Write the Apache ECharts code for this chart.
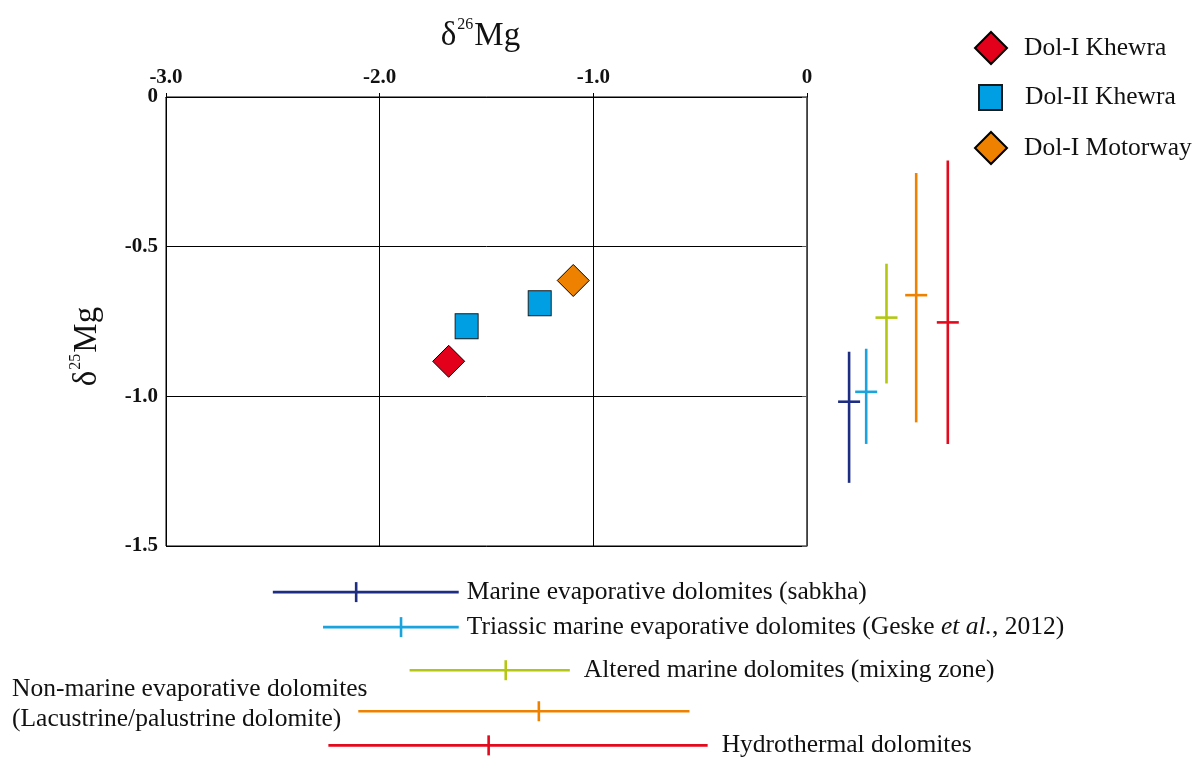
<!DOCTYPE html>
<html>
<head>
<meta charset="utf-8">
<script src="https://cdn.jsdelivr.net/npm/echarts@6/dist/echarts.min.js"></script>
<style>html,body{margin:0;padding:0;background:#fff}#c{width:1195px;height:758px}</style>
</head>
<body>
<div id="c"></div>
<script>
// ---- data ----
const xTicks = [-3, -2, -1, 0];
const xTickLabels = ['-3.0', '-2.0', '-1.0', '0'];
const yTicks = [0, -0.5, -1, -1.5];
const yTickLabels = ['0', '-0.5', '-1.0', '-1.5'];

const seriesNames = ['Dol-I Khewra', 'Dol-II Khewra', 'Dol-I Motorway'];
const dolIKhewra = [[-1.677, -0.883]];
const dolIIKhewra = [[-1.593, -0.766], [-1.251, -0.689]];
const dolIMotorway = [[-1.094, -0.613]];

// reference ranges: delta26Mg (horizontal bars) and delta25Mg (vertical bars)
const refGroups = ['Marine evaporative dolomites (sabkha)',
  'Triassic marine evaporative dolomites (Geske {i|et al.}, 2012)',
  'Altered marine dolomites (mixing zone)',
  'Non-marine evaporative dolomites\n(Lacustrine/palustrine dolomite)',
  'Hydrothermal dolomites'];
const d26Mean = [-2.11, -1.90, -1.41, -1.255, -1.49];
const d26Min  = [-2.50, -2.265, -1.86, -2.10, -2.24];
const d26Max  = [-1.63, -1.63, -1.11, -0.55, -0.465];
const d26Row  = [-1.654, -1.771, -1.915, -2.052, -2.166];
const d25Mean = [-1.018, -0.985, -0.737, -0.662, -0.753];
const d25Min  = [-1.289, -1.159, -0.957, -1.087, -1.159];
const d25Max  = [-0.851, -0.841, -0.557, -0.254, -0.212];
const d25Col  = [0.197, 0.277, 0.372, 0.511, 0.659];
const refColors = ['#1d2d83', '#1aa3dc', '#b3c712', '#ee8200', '#e30a1e'];

const SERIF = "'Liberation Serif', 'Times New Roman', serif";
const FS = 25.5;

const chart = echarts.init(document.getElementById('c'), null, {renderer: 'canvas'});

const vData = d25Col.map((x, i) => [x, d25Mean[i], d25Min[i], d25Max[i], i]);
const hData = d26Row.map((y, i) => [d26Mean[i], y, d26Min[i], d26Max[i], i]);

function renderV(params, api) {
  const i = api.value(4);
  const c = api.coord([api.value(0), api.value(1)]);
  const lo = api.coord([api.value(0), api.value(2)]);
  const hi = api.coord([api.value(0), api.value(3)]);
  const st = {stroke: refColors[i], lineWidth: 2.6};
  return {type: 'group', children: [
    {type: 'line', shape: {x1: c[0], y1: hi[1], x2: c[0], y2: lo[1]}, style: st},
    {type: 'line', shape: {x1: c[0] - 11, y1: c[1], x2: c[0] + 11, y2: c[1]}, style: st}
  ]};
}

function renderH(params, api) {
  const i = api.value(4);
  const c = api.coord([api.value(0), api.value(1)]);
  const lo = api.coord([api.value(2), api.value(1)]);
  const hi = api.coord([api.value(3), api.value(1)]);
  const st = {stroke: refColors[i], lineWidth: 2.6};
  let text;
  if (i === 3) {
    text = {type: 'text', x: 12, y: c[1] - 7,
      style: {text: refGroups[i], fill: '#111', font: FS + 'px ' + SERIF,
        align: 'left', verticalAlign: 'middle', lineHeight: 30}};
  } else {
    text = {type: 'text', x: hi[0] + 8 + (i >= 2 ? 6 : 0), y: c[1],
      style: {text: '{n|' + refGroups[i].replace('{i|', '}{i|').replace('}, ', '}{n|, ') + '}',
        fill: '#111', font: FS + 'px ' + SERIF, align: 'left', verticalAlign: 'middle',
        rich: {n: {fontFamily: SERIF, fontSize: FS, fill: '#111', fontStyle: 'normal'},
               i: {fontFamily: SERIF, fontSize: FS, fill: '#111', fontStyle: 'italic'}}}};
  }
  return {type: 'group', children: [
    {type: 'line', shape: {x1: lo[0], y1: c[1], x2: hi[0], y2: c[1]}, style: st},
    {type: 'line', shape: {x1: c[0], y1: c[1] - 10, x2: c[0], y2: c[1] + 10}, style: st},
    text
  ]};
}

const legendText = {fontFamily: SERIF, fontSize: FS, color: '#111'};
const titleRich = {
  d: {fontFamily: SERIF, fontSize: 33, color: '#111', lineHeight: 36, verticalAlign: 'bottom'},
  s: {fontFamily: SERIF, fontSize: 16, color: '#111', lineHeight: 36, verticalAlign: 'top', padding: [0, 1, 0, 1]},
  m: {fontFamily: SERIF, fontSize: 33, color: '#111', lineHeight: 36, verticalAlign: 'bottom'}};

chart.setOption({
  animation: false,
  backgroundColor: '#fff',
  grid: {left: 166, right: 388, top: 97, bottom: 212, show: true, borderColor: '#000', borderWidth: 1},
  legend: [
    {data: [seriesNames[0]], left: 969, top: 26, itemWidth: 32, itemHeight: 32,
     textStyle: Object.assign({padding: [0, 0, 0, 12]}, legendText)},
    {data: [seriesNames[1]], left: 973, top: 79, itemWidth: 23, itemHeight: 25,
     textStyle: Object.assign({padding: [0, 0, 0, 18]}, legendText)},
    {data: [seriesNames[2]], left: 969, top: 126, itemWidth: 32, itemHeight: 32,
     textStyle: Object.assign({padding: [0, 0, 0, 12]}, legendText)}
  ],
  xAxis: {
    type: 'value', position: 'top', min: -3, max: 0, interval: 1,
    name: '{d|δ}{s|26}{m|Mg}', nameLocation: 'middle', nameGap: 44,
    nameTextStyle: {padding: [0, 12, 0, 0], rich: titleRich},
    axisLine: {show: true, lineStyle: {color: '#000', width: 1}},
    axisTick: {show: true, length: 4, lineStyle: {color: '#000'}},
    splitLine: {show: true, lineStyle: {color: '#000', width: 1}},
    axisLabel: {margin: 9, fontFamily: SERIF, fontWeight: 'bold', fontSize: 21, color: '#111',
      formatter: v => { const k = xTicks.indexOf(Math.round(v * 10) / 10); return k >= 0 ? xTickLabels[k] : ''; }}
  },
  yAxis: {
    type: 'value', min: -1.5, max: 0, interval: 0.5,
    name: '{d|δ}{s|25}{m|Mg}', nameLocation: 'middle', nameGap: 62, nameRotate: 90,
    nameTextStyle: {padding: [0, 50, 0, 0], rich: titleRich},
    axisLine: {show: true, lineStyle: {color: '#555', width: 1.5}},
    axisTick: {show: true, length: 5, lineStyle: {color: '#555'}},
    splitLine: {show: true, lineStyle: {color: '#000', width: 1}},
    axisLabel: {margin: 8, padding: [4, 0, 0, 0], fontFamily: SERIF, fontWeight: 'bold', fontSize: 21, color: '#111',
      formatter: v => { const k = yTicks.indexOf(Math.round(v * 10) / 10); return k >= 0 ? yTickLabels[k] : ''; }}
  },
  series: [
    {name: 'ranges25', type: 'custom', renderItem: renderV, data: vData, clip: false, silent: true,
     encode: {x: 0, y: 1}, z: 3},
    {name: 'ranges26', type: 'custom', renderItem: renderH, data: hData, clip: false, silent: true,
     encode: {x: 0, y: 1}, z: 3},
    {name: seriesNames[0], type: 'scatter', data: dolIKhewra, symbol: 'diamond', symbolSize: 32,
     itemStyle: {color: '#e2001a', borderColor: '#000', borderWidth: 1, opacity: 1}, z: 5},
    {name: seriesNames[1], type: 'scatter', data: dolIIKhewra, symbol: 'rect', symbolSize: [23, 25],
     itemStyle: {color: '#009fe3', borderColor: '#1a1a1a', borderWidth: 1, opacity: 1}, z: 5},
    {name: seriesNames[2], type: 'scatter', data: dolIMotorway, symbol: 'diamond', symbolSize: 32,
     itemStyle: {color: '#ef8100', borderColor: '#000', borderWidth: 1, opacity: 1}, z: 5}
  ]
});
</script>
</body>
</html>
